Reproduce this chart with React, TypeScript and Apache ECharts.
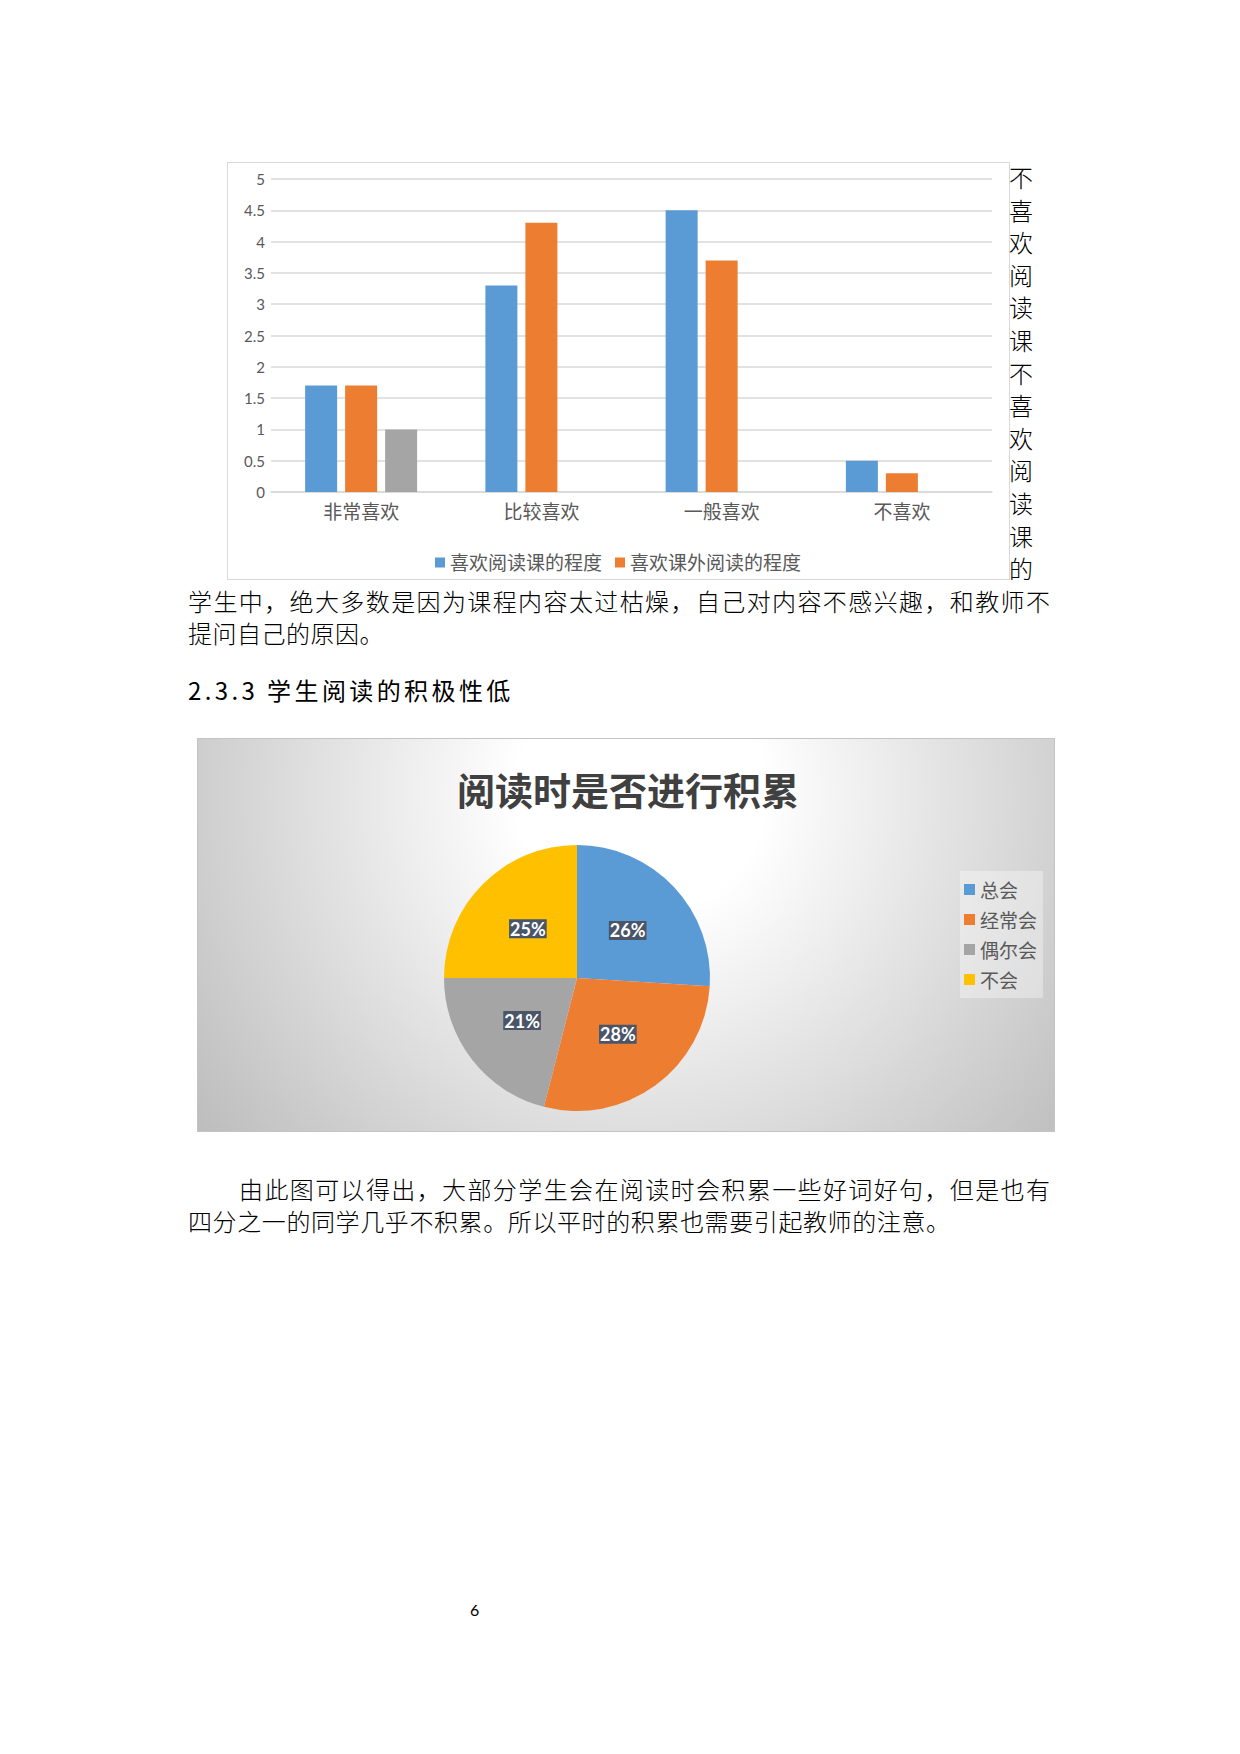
import React, { useEffect, useRef } from "react";
import * as echarts from "echarts";

// bar chart data
const barCategories = ["非常喜欢", "比较喜欢", "一般喜欢", "不喜欢"];
const barSeriesNames = ["喜欢阅读课的程度", "喜欢课外阅读的程度", "系列3"];
const readingClassLike = [1.7, 3.3, 4.5, 0.5];
const outsideReadingLike = [1.7, 4.3, 3.7, 0.3];
const thirdSeries = [1.0, null, null, null];
const yTicks = { min: 0, max: 5, interval: 0.5 };

// pie chart data
const pieTitle = "阅读时是否进行积累";
const pieNames = ["总会", "经常会", "偶尔会", "不会"];
const pieValues = [26, 28, 21, 25];

const BLUE = "#5B9BD5";
const ORANGE = "#ED7D31";
const GREY = "#A5A5A5";
const YELLOW = "#FFC000";
const LABEL = "#595959";
const FONT = "Lato, 'Noto Sans CJK SC', sans-serif";
const CJK = "'Noto Sans CJK SC', sans-serif";

const sideText = "不喜欢阅读课不喜欢阅读课的";
const para1 = [
  "学生中，绝大多数是因为课程内容太过枯燥，自己对内容不感兴趣，和教师不",
  "提问自己的原因。",
];
const heading = "2.3.3 学生阅读的积极性低";
const para2 = [
  "由此图可以得出，大部分学生会在阅读时会积累一些好词好句，但是也有",
  "四分之一的同学几乎不积累。所以平时的积累也需要引起教师的注意。",
];

const BarChart: React.FC = () => {
  const ref = useRef<HTMLDivElement>(null);

  useEffect(() => {
    if (!ref.current) return;
    const chart = echarts.init(ref.current, undefined, { renderer: "svg" });
    chart.setOption({
      animation: false,
      textStyle: { fontFamily: FONT },
      grid: { left: 44, right: 18, top: 17, bottom: 88 },
      legend: {
        data: barSeriesNames.slice(0, 2),
        left: 208,
        top: 391,
        padding: 0,
        icon: "rect",
        itemWidth: 10,
        itemHeight: 10,
        itemGap: 13,
        textStyle: { color: LABEL, fontSize: 19, fontFamily: FONT },
      },
      xAxis: {
        type: "category",
        data: barCategories,
        axisTick: { show: false },
        axisLine: { lineStyle: { color: "#d9d9d9", width: 1.5 } },
        axisLabel: { color: LABEL, fontSize: 19, margin: 10 },
      },
      yAxis: {
        type: "value",
        min: yTicks.min,
        max: yTicks.max,
        interval: yTicks.interval,
        axisLine: { show: false },
        axisTick: { show: false },
        axisLabel: { color: LABEL, fontSize: 15, margin: 6 },
        splitLine: { lineStyle: { color: "#d9d9d9", width: 1.5 } },
      },
      series: [
        { name: barSeriesNames[0], type: "bar", data: readingClassLike, itemStyle: { color: BLUE }, barWidth: 32, barGap: "25%" },
        { name: barSeriesNames[1], type: "bar", data: outsideReadingLike, itemStyle: { color: ORANGE }, barWidth: 32, barGap: "25%" },
        { name: barSeriesNames[2], type: "bar", data: thirdSeries, itemStyle: { color: GREY }, barWidth: 32, barGap: "25%" },
      ],
    });
    return () => chart.dispose();
  }, []);

  return (
    <>
      <div ref={ref} style={{ position: "absolute", left: 227, top: 162, width: 783, height: 418 }} />
      <div
        style={{
          position: "absolute", left: 227, top: 162, width: 783, height: 418,
          border: "1.5px solid #d9d9d9", boxSizing: "border-box", pointerEvents: "none",
        }}
      />
    </>
  );
};

const PieChart: React.FC = () => {
  const ref = useRef<HTMLDivElement>(null);

  useEffect(() => {
    if (!ref.current) return;
    const chart = echarts.init(ref.current, undefined, { renderer: "svg" });
    chart.setOption({
      animation: false,
      textStyle: { fontFamily: FONT },
      color: [BLUE, ORANGE, GREY, YELLOW],
      graphic: [
        {
          type: "rect",
          silent: true,
          z: -1,
          shape: { x: 0, y: 0, width: 858, height: 394 },
          style: {
            fill: new echarts.graphic.RadialGradient(
              443, 55, 560,
              [
                { offset: 0, color: "#ffffff" },
                { offset: 0.22, color: "#ffffff" },
                { offset: 1, color: "#bcbcbc" },
              ],
              true
            ),
            stroke: "#c4c4c4",
            lineWidth: 2,
          },
        },
      ],
      title: {
        text: pieTitle,
        left: 426,
        top: 26,
        textAlign: "center",
        textStyle: { fontSize: 38, fontWeight: "bold", color: "#404040", fontFamily: CJK },
      },
      legend: {
        orient: "vertical",
        left: 763,
        top: 133,
        padding: [9, 6, 9, 4],
        itemGap: 11,
        itemWidth: 11,
        itemHeight: 11,
        icon: "rect",
        backgroundColor: "rgba(255,255,255,0.35)",
        textStyle: { color: LABEL, fontSize: 19, fontFamily: CJK },
      },
      series: [
        {
          type: "pie",
          center: [380, 240],
          radius: 133,
          startAngle: 90,
          data: pieNames.map((name, i) => ({ name, value: pieValues[i] })),
          label: {
            position: "inside",
            formatter: "{d}%",
            color: "#fff",
            fontWeight: "bold",
            fontSize: 18,
            fontFamily: FONT,
            backgroundColor: "#4a5568",
            padding: [1, 1, 0, 1],
          },
          labelLine: { show: false },
        },
      ],
    });
    return () => chart.dispose();
  }, []);

  return <div ref={ref} style={{ position: "absolute", left: 197, top: 738, width: 858, height: 394 }} />;
};

const bodyText: React.CSSProperties = {
  position: "absolute",
  fontFamily: CJK,
  fontSize: 24,
  fontWeight: 300,
  lineHeight: "32px",
  color: "#000",
  whiteSpace: "nowrap",
};

const justified: React.CSSProperties = {
  ...bodyText,
  whiteSpace: "normal",
  textAlign: "justify",
  textAlignLast: "justify",
};

export default function App() {
  return (
    <div style={{ position: "absolute", left: 0, top: 0, width: 1240, height: 1754, background: "#fff" }}>
      <BarChart />
      {sideText.split("").map((ch, i) => (
        <div key={i} style={{ ...bodyText, left: 1009, top: 161 + i * 32.6 }}>
          {ch}
        </div>
      ))}
      <div style={{ ...justified, left: 188, top: 585, width: 862 }}>{para1[0]}</div>
      <div style={{ ...bodyText, left: 188, top: 617, letterSpacing: 0.5 }}>{para1[1]}</div>
      <div style={{ ...bodyText, fontWeight: 400, left: 188, top: 674, letterSpacing: 3.4 }}>{heading}</div>
      <PieChart />
      <div style={{ ...justified, left: 239, top: 1173, width: 811 }}>{para2[0]}</div>
      <div style={{ ...bodyText, left: 188, top: 1205, letterSpacing: 0.6 }}>{para2[1]}</div>
      <div style={{ position: "absolute", left: 470, top: 1600, fontFamily: FONT, fontSize: 16, color: "#000" }}>6</div>
    </div>
  );
}
